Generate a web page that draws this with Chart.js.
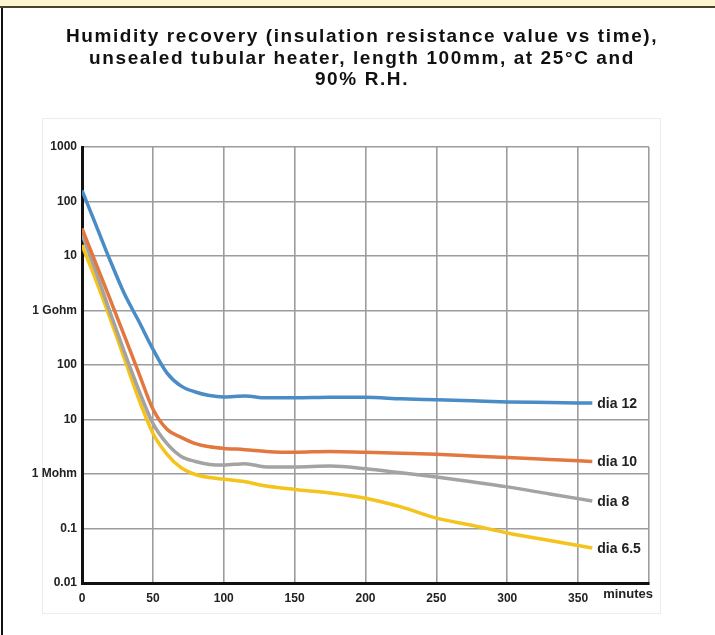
<!DOCTYPE html>
<html>
<head>
<meta charset="utf-8">
<script src="https://cdn.jsdelivr.net/npm/chart.js@4.4.1/dist/chart.umd.min.js"></script>
<style>
  html, body { margin:0; padding:0; background:#fff; }
  #page { position:relative; width:715px; height:635px; overflow:hidden; }
  #topband { position:absolute; left:0; top:0; width:715px; height:6px; background:#fcf4cc; border-bottom:2px solid #45422e; }
  #leftline { position:absolute; left:1px; top:8px; width:2px; height:627px; background:#111; }
  #frame { position:absolute; left:42px; top:118px; width:617px; height:494px; border:1px solid #ececec; }
  #title { position:absolute; left:0; top:25px; width:724px; text-align:center;
           font-family:"Liberation Sans", Arial, sans-serif; font-weight:bold; font-size:19px;
           line-height:21.5px; letter-spacing:1.6px; color:#111; }
  #wrap { position:absolute; left:0; top:0; width:715px; height:635px; }
</style>
</head>
<body>
<div id="page">
  <div id="topband"></div>
  <div id="leftline"></div>
  <div id="frame"></div>
  <div id="wrap"><canvas id="myChart" width="715" height="635"></canvas></div>
  <div id="title">Humidity recovery (insulation resistance value vs time),<br>unsealed tubular heater, length 100mm, at 25°C and<br>90% R.H.</div>
</div>
<script>
// time in minutes, resistance in Mohm
var minutes = [0, 10, 20, 30, 40, 50, 60, 70, 80, 90, 100, 115, 130, 150, 175, 200, 225, 250, 275, 300, 330, 360];
var dia12  = [160000, 36000, 8100, 2000, 640, 196, 71, 41, 32, 27.5, 26, 27, 25, 25, 25.5, 25.5, 24, 23, 22, 21, 20.5, 20];
var dia10  = [32000, 7100, 1560, 340, 72, 15.6, 6.6, 4.7, 3.6, 3.15, 2.95, 2.8, 2.6, 2.5, 2.6, 2.5, 2.4, 2.3, 2.15, 2.0, 1.85, 1.7];
var dia8   = [25000, 5000, 900, 170, 35, 8.5, 3.6, 2.1, 1.7, 1.5, 1.46, 1.55, 1.35, 1.35, 1.4, 1.25, 1.05, 0.88, 0.72, 0.58, 0.43, 0.32];
var dia65  = [16000, 3500, 700, 129, 24, 5.6, 2.3, 1.3, 0.98, 0.86, 0.8, 0.72, 0.6, 0.52, 0.45, 0.36, 0.25, 0.155, 0.115, 0.083, 0.06, 0.044];

var seriesNames = ['dia 12', 'dia 10', 'dia 8', 'dia 6.5'];
var seriesColors = ['#4a8cc6', '#e2783f', '#a3a3a3', '#f4c31c'];

var yTickValues = [0.01, 0.1, 1, 10, 100, 1000, 10000, 100000, 1000000];
var yTickLabels = ['0.01', '0.1', '1 Mohm', '10', '100', '1 Gohm', '10', '100', '1000'];
var xTickValues = [0, 50, 100, 150, 200, 250, 300, 350, 400];
var xTickLabels = ['0', '50', '100', '150', '200', '250', '300', '350', ''];

function pts(vals) {
  var out = [];
  for (var i = 0; i < minutes.length; i++) out.push({x: minutes[i], y: vals[i]});
  return out;
}

var allSeries = [dia12, dia10, dia8, dia65];
var datasets = [];
for (var s = 0; s < allSeries.length; s++) {
  datasets.push({
    label: seriesNames[s],
    data: pts(allSeries[s]),
    borderColor: seriesColors[s],
    borderWidth: 3.5,
    pointRadius: 0,
    fill: false,
    cubicInterpolationMode: 'monotone'
  });
}

// series names at line ends + "minutes" at the end of the x axis
var endLabels = {
  id: 'endLabels',
  afterDatasetsDraw: function(chart) {
    var ctx = chart.ctx;
    ctx.save();
    ctx.font = 'bold 14px "Liberation Sans", Arial, sans-serif';
    ctx.fillStyle = '#222';
    ctx.textBaseline = 'middle';
    ctx.textAlign = 'left';
    chart.data.datasets.forEach(function(ds, i) {
      var meta = chart.getDatasetMeta(i);
      var last = meta.data[meta.data.length - 1];
      ctx.fillText(ds.label, last.x + 5, last.y + 1);
    });
    var xs = chart.scales.x;
    ctx.font = 'bold 13px "Liberation Sans", Arial, sans-serif';
    ctx.textAlign = 'right';
    ctx.fillText('minutes', xs.right + 4, xs.top + 11);
    ctx.restore();
  }
};

var ctx = document.getElementById('myChart').getContext('2d');
var myChart = new Chart(ctx, {
  type: 'line',
  data: { datasets: datasets },
  options: {
    responsive: false,
    animation: false,
    layout: { padding: { top: 147, right: 66, left: 0, bottom: 0 } },
    plugins: {
      legend: { display: false },
      tooltip: { enabled: false }
    },
    scales: {
      x: {
        type: 'linear',
        min: 0,
        max: 400,
        afterBuildTicks: function(scale) {
          scale.ticks = xTickValues.map(function(v) { return {value: v}; });
        },
        afterFit: function(scale) { scale.height = 52; },
        ticks: {
          autoSkip: false,
          maxRotation: 0,
          padding: 8,
          color: '#222',
          font: { family: '"Liberation Sans Narrow", "Liberation Sans", Arial', size: 12, weight: 'bold' },
          callback: function(v) { return xTickLabels[xTickValues.indexOf(v)]; }
        },
        grid: { color: '#9c9c9c', lineWidth: 1.6, drawTicks: false },
        border: { color: '#111', width: 3 }
      },
      y: {
        type: 'logarithmic',
        min: 0.01,
        max: 1000000,
        afterBuildTicks: function(scale) {
          scale.ticks = yTickValues.map(function(v) { return {value: v}; });
        },
        afterFit: function(scale) { scale.width = 82; },
        ticks: {
          autoSkip: false,
          padding: 5,
          color: '#222',
          font: { family: '"Liberation Sans", Arial', size: 12, weight: 'bold' },
          callback: function(v) { return yTickLabels[yTickValues.indexOf(v)]; }
        },
        grid: { color: '#9c9c9c', lineWidth: 1.6, drawTicks: false },
        border: { color: '#111', width: 3 }
      }
    }
  },
  plugins: [endLabels]
});
</script>
</body>
</html>
